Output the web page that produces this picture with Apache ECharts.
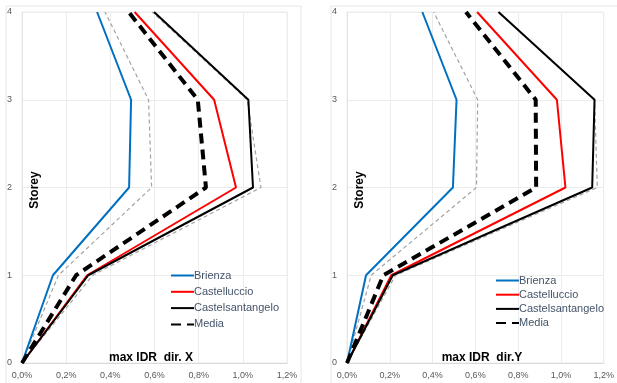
<!DOCTYPE html>
<html>
<head>
<meta charset="utf-8">
<script src="https://cdn.jsdelivr.net/npm/echarts@6/dist/echarts.min.js"></script>
<style>
  html, body { margin: 0; padding: 0; background: #fff; }
  #main { width: 617px; height: 383px; }
</style>
</head>
<body>
<div id="main"></div>
<script>
// storeys (y axis)
var storeys = [0, 1, 2, 3, 4];
var xTicks = [0, 0.2, 0.4, 0.6, 0.8, 1.0, 1.2];

// dir. X  - max IDR in %
var brienzaX = [0, 0.14, 0.485, 0.494, 0.34];
var castellX = [0, 0.295, 0.969, 0.87, 0.51];
var castelsX = [0, 0.30, 1.046, 1.025, 0.598];
var mediaX = [0, 0.245, 0.833, 0.796, 0.483];
var lowX = [0, 0.165, 0.587, 0.573, 0.376];
var highX = [0, 0.32, 1.082, 1.02, 0.59];

// dir. Y
var brienzaY = [0, 0.089, 0.495, 0.512, 0.352];
var castellY = [0, 0.207, 1.021, 0.981, 0.608];
var castelsY = [0, 0.214, 1.146, 1.157, 0.708];
var mediaY = [0, 0.17, 0.884, 0.882, 0.556];
var lowY = [0, 0.113, 0.605, 0.611, 0.405];
var highY = [0, 0.227, 1.17, 1.157, 0.706];

var legendNames = ['Brienza', 'Castelluccio', 'Castelsantangelo', 'Media'];

function pts(vals) {
    return storeys.map(function (s, i) { return [vals[i], s]; });
}

function makeSeries(idx, b, c, k, m, lo, hi) {
    var grey = { color: '#a3a3a3', width: 1.2, type: [4, 3] };
    return [
        { name: 'Media - dev', type: 'line', xAxisIndex: idx, yAxisIndex: idx, data: pts(lo),
          symbol: 'none', lineStyle: grey, itemStyle: { color: '#a3a3a3' }, z: 1 },
        { name: 'Media + dev', type: 'line', xAxisIndex: idx, yAxisIndex: idx, data: pts(hi),
          symbol: 'none', lineStyle: grey, itemStyle: { color: '#a3a3a3' }, z: 1 },
        { name: 'Brienza', type: 'line', xAxisIndex: idx, yAxisIndex: idx, data: pts(b),
          symbol: 'none', lineStyle: { color: '#0070c0', width: 2 }, itemStyle: { color: '#0070c0' }, z: 2 },
        { name: 'Castelluccio', type: 'line', xAxisIndex: idx, yAxisIndex: idx, data: pts(c),
          symbol: 'none', lineStyle: { color: '#ff0000', width: 2 }, itemStyle: { color: '#ff0000' }, z: 3 },
        { name: 'Castelsantangelo', type: 'line', xAxisIndex: idx, yAxisIndex: idx, data: pts(k),
          symbol: 'none', lineStyle: { color: '#000', width: 2 }, itemStyle: { color: '#000' }, z: 4 },
        { name: 'Media', type: 'line', xAxisIndex: idx, yAxisIndex: idx, data: pts(m),
          symbol: 'none', lineStyle: { color: '#000', width: 4, type: [10, 6] }, itemStyle: { color: '#000' }, z: 5 }
    ];
}

function xAxisOpt(idx) {
    return {
        type: 'value', gridIndex: idx, min: xTicks[0], max: xTicks[xTicks.length - 1], interval: 0.2,
        axisLine: { show: true, lineStyle: { color: '#d9d9d9' } },
        axisTick: { show: false },
        splitLine: { show: true, lineStyle: { color: '#ececec' } },
        axisLabel: {
            color: '#595959', fontSize: 9, fontFamily: 'Liberation Sans', margin: 8,
            formatter: function (v) { return v.toFixed(1).replace('.', ',') + '%'; }
        }
    };
}

function yAxisOpt(idx) {
    return {
        type: 'value', gridIndex: idx, min: 0, max: 4, interval: 1,
        axisLine: { show: true, lineStyle: { color: '#e4e4e4' } },
        axisTick: { show: false },
        splitLine: { show: true, lineStyle: { color: '#ececec' } },
        axisLabel: { color: '#595959', fontSize: 9, fontFamily: 'Liberation Sans', margin: 10 }
    };
}

function legendOpt(left, top, gap) {
    return {
        data: legendNames, orient: 'vertical', left: left, top: top,
        itemWidth: 23, itemHeight: 10, itemGap: gap,
        itemStyle: { opacity: 0 },
        textStyle: { color: '#44546a', fontSize: 11, fontFamily: 'Liberation Sans', padding: [0, 0, 0, -5] }
    };
}

var chart = echarts.init(document.getElementById('main'));
chart.setOption({
    animation: false,
    backgroundColor: '#fff',
    grid: [
        { left: 22, top: 12, width: 265, height: 351, show: true, borderColor: '#ececec', borderWidth: 1 },
        { left: 347, top: 12, width: 261, height: 351, show: true, borderColor: '#ececec', borderWidth: 1 }
    ],
    xAxis: [xAxisOpt(0), xAxisOpt(1)],
    yAxis: [yAxisOpt(0), yAxisOpt(1)],
    legend: [legendOpt(165, 265, 5.3), legendOpt(490, 270, 3.2)],
    graphic: [
        { type: 'rect', shape: { x: 6, y: 6, width: 295, height: 380 }, style: { fill: 'none', stroke: '#e6e6e6', lineWidth: 1 }, silent: true },
        { type: 'rect', shape: { x: 331, y: 6, width: 290, height: 380 }, style: { fill: 'none', stroke: '#e6e6e6', lineWidth: 1 }, silent: true },
        { type: 'text', x: 35, y: 190, rotation: Math.PI / 2, z: 100,
          style: { text: 'Storey', fill: '#000', font: 'bold 12px "Liberation Sans"', align: 'center', verticalAlign: 'middle' } },
        { type: 'text', x: 360, y: 190, rotation: Math.PI / 2, z: 100,
          style: { text: 'Storey', fill: '#000', font: 'bold 12px "Liberation Sans"', align: 'center', verticalAlign: 'middle' } },
        { type: 'text', x: 151, y: 358, z: 100,
          style: { text: 'max IDR  dir. X', fill: '#000', font: 'bold 12px "Liberation Sans"', align: 'center', verticalAlign: 'middle' } },
        { type: 'text', x: 482, y: 358, z: 100,
          style: { text: 'max IDR  dir.Y', fill: '#000', font: 'bold 12px "Liberation Sans"', align: 'center', verticalAlign: 'middle' } }
    ],
    series: makeSeries(0, brienzaX, castellX, castelsX, mediaX, lowX, highX)
        .concat(makeSeries(1, brienzaY, castellY, castelsY, mediaY, lowY, highY))
});
</script>
</body>
</html>
